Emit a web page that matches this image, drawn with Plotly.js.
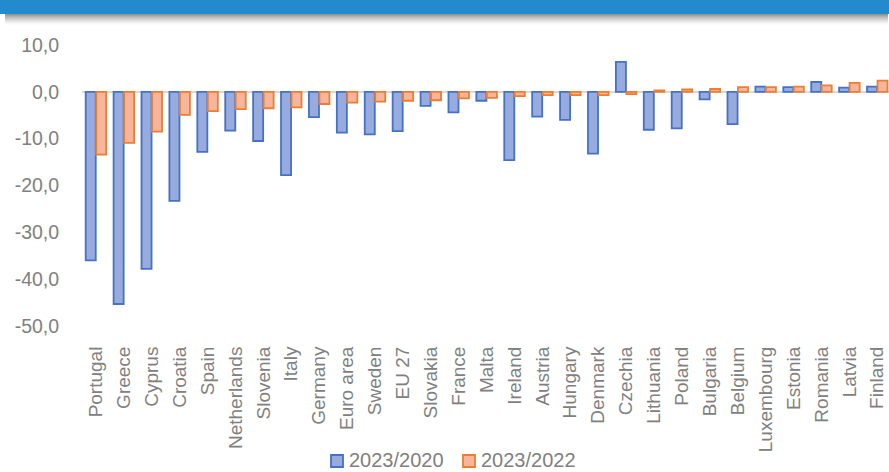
<!DOCTYPE html>
<html>
<head>
<meta charset="utf-8">
<script src="https://cdn.plot.ly/plotly-3.0.1.min.js"></script>
<style>
  html, body { margin: 0; padding: 0; background: #ffffff; }
  #chart { width: 889px; height: 472px; }
</style>
</head>
<body>
<div id="chart"></div>
<script>
// Change in value, percent, by country
const countries = [
  "Portugal", "Greece", "Cyprus", "Croatia", "Spain", "Netherlands", "Slovenia",
  "Italy", "Germany", "Euro area", "Sweden", "EU 27", "Slovakia", "France",
  "Malta", "Ireland", "Austria", "Hungary", "Denmark", "Czechia", "Lithuania",
  "Poland", "Bulgaria", "Belgium", "Luxembourg", "Estonia", "Romania", "Latvia",
  "Finland"
];

const change2020 = [
  -36.0, -45.3, -37.8, -23.3, -12.8, -8.3, -10.5,
  -17.8, -5.4, -8.7, -9.1, -8.4, -3.0, -4.4,
  -1.9, -14.6, -5.3, -6.0, -13.2, 6.4, -8.1,
  -7.8, -1.6, -6.9, 1.1, 1.0, 2.1, 0.9,
  1.1
];

const change2022 = [
  -13.4, -10.9, -8.5, -4.9, -4.1, -3.7, -3.5,
  -3.3, -2.6, -2.3, -2.1, -1.9, -1.8, -1.4,
  -1.3, -0.9, -0.7, -0.7, -0.7, -0.5, 0.3,
  0.5, 0.6, 1.0, 1.0, 1.1, 1.4, 1.9,
  2.4
];

const seriesNames = ["2023/2020", "2023/2022"];
const seriesFill = ["#98ABDF", "#F7B69B"];
const seriesLine = ["#4472C4", "#ED7D31"];

const yTickVals = [10, 0, -10, -20, -30, -40, -50];
const yTickText = ["10,0", "0,0", "-10,0", "-20,0", "-30,0", "-40,0", "-50,0"];

const grey = "#808080";
const fontFamily = "'Liberation Sans', Arial, sans-serif";

const traces = [change2020, change2022].map((vals, i) => ({
  type: "bar",
  name: seriesNames[i],
  x: countries,
  y: vals,
  marker: { color: seriesFill[i], line: { color: seriesLine[i], width: 1.8 } },
  hoverinfo: "x+y",
  showlegend: false
}));

// Pixel helpers for the plot area (left 82, width 807; top 45, bottom 326)
const plotLeft = 82, plotW = 889 - plotLeft;
const plotTop = 45, plotBottom = 326, plotH = plotBottom - plotTop;
const px = p => (p - plotLeft) / plotW;
const py = p => (plotBottom - p) / plotH;

// Header band with a soft drop shadow underneath
const shapes = [];
const shadowRows = 11;
for (let i = 0; i < shadowRows; i++) {
  shapes.push({
    type: "rect", xref: "paper", yref: "paper", layer: "above",
    x0: px(5), x1: px(888),
    y0: py(14 + i + 1), y1: py(14 + i),
    fillcolor: "rgba(0,0,0," + (0.42 * Math.pow(1 - i / shadowRows, 1.5)).toFixed(3) + ")",
    line: { width: 0 }
  });
}
shapes.push({
  type: "rect", xref: "paper", yref: "paper", layer: "above",
  x0: px(-2), x1: px(891), y0: py(14), y1: py(-2),
  fillcolor: "#238BCD", line: { width: 0 }
});

// Legend: swatch + label for each series, centred under the chart
const legendItems = [{ sx: 331, tx: 347 }, { sx: 463, tx: 479 }];
const annotations = [];
legendItems.forEach((item, i) => {
  shapes.push({
    type: "rect", xref: "paper", yref: "paper", layer: "above",
    x0: px(item.sx), x1: px(item.sx + 12),
    y0: py(467), y1: py(455),
    fillcolor: seriesFill[i],
    line: { color: seriesLine[i], width: 1.8 }
  });
  annotations.push({
    xref: "paper", yref: "paper",
    x: px(item.tx), y: py(460),
    xanchor: "left", yanchor: "middle",
    text: seriesNames[i],
    showarrow: false,
    font: { family: fontFamily, color: grey, size: 20 }
  });
});

const layout = {
  width: 889,
  height: 472,
  margin: { l: plotLeft, r: 0, t: plotTop, b: 472 - plotBottom, pad: 0 },
  paper_bgcolor: "#ffffff",
  plot_bgcolor: "#ffffff",
  font: { family: fontFamily, color: grey, size: 19 },
  barmode: "group",
  bargap: 0.25,
  bargroupgap: 0.04,
  showlegend: false,
  xaxis: {
    type: "category",
    range: [-0.5, 28.42],
    tickangle: -90,
    showgrid: false,
    showline: false,
    zeroline: false,
    ticks: "outside",
    ticklen: 12,
    tickcolor: "rgba(0,0,0,0)",
    tickfont: { family: fontFamily, color: grey, size: 19 },
    fixedrange: true
  },
  yaxis: {
    range: [-50, 10],
    tickvals: yTickVals,
    ticktext: yTickText,
    showgrid: false,
    showline: false,
    zeroline: true,
    zerolinecolor: "#D9D9D9",
    zerolinewidth: 2,
    ticks: "outside",
    ticklen: 18,
    tickcolor: "rgba(0,0,0,0)",
    tickfont: { family: fontFamily, color: grey, size: 19.5 },
    fixedrange: true
  },
  shapes: shapes,
  annotations: annotations
};

Plotly.newPlot("chart", traces, layout, { displayModeBar: false, staticPlot: true });
</script>
</body>
</html>
